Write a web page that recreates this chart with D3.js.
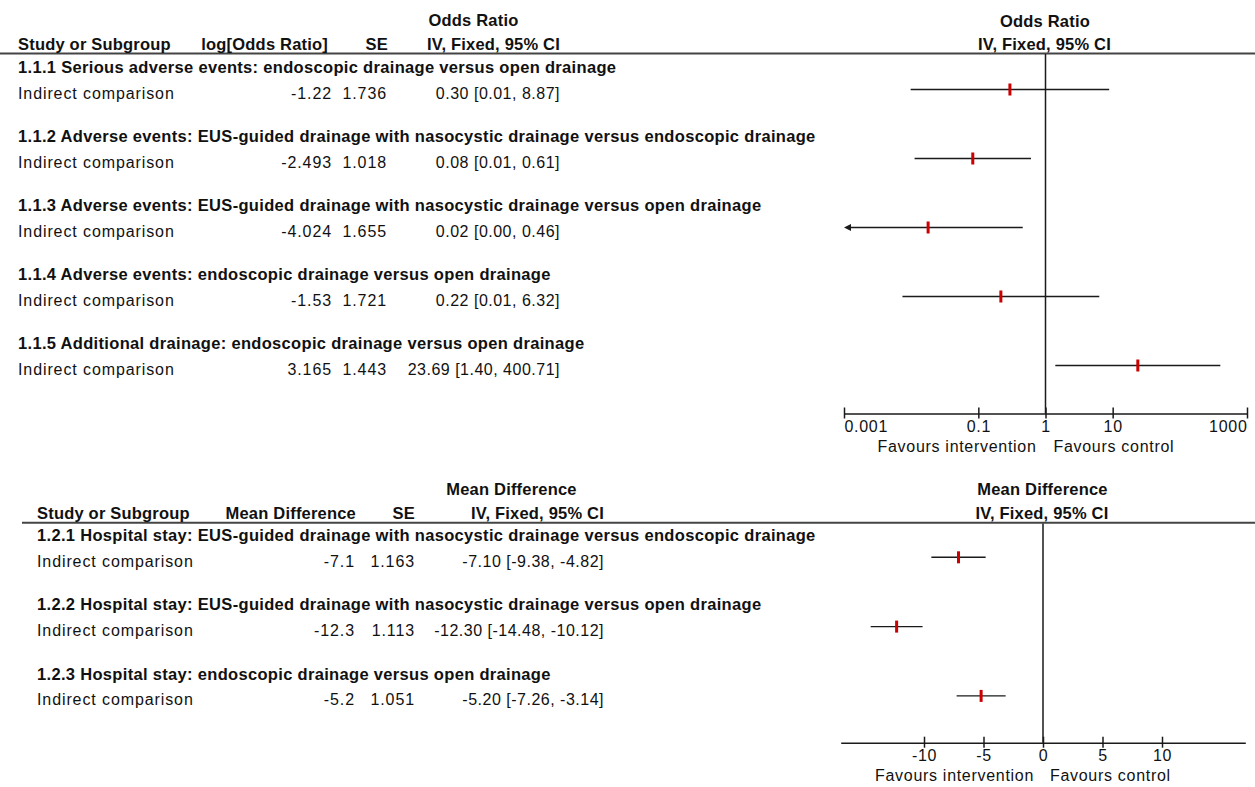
<!DOCTYPE html>
<html><head><meta charset="utf-8">
<script src="https://cdn.jsdelivr.net/npm/d3@7"></script>
<style>
body{margin:0;background:#fff}
text{font-family:"Liberation Sans",Arial,Helvetica,sans-serif;fill:#111}
</style>
</head><body>
<svg id="chart" width="1255" height="787"></svg>
<script>
// ---------- DATA ----------
const orSubgroups = [
  "1.1.1 Serious adverse events: endoscopic drainage versus open drainage",
  "1.1.2 Adverse events: EUS-guided drainage with nasocystic drainage versus endoscopic drainage",
  "1.1.3 Adverse events: EUS-guided drainage with nasocystic drainage versus open drainage",
  "1.1.4 Adverse events: endoscopic drainage versus open drainage",
  "1.1.5 Additional drainage: endoscopic drainage versus open drainage"
];
const orStudies = ["Indirect comparison","Indirect comparison","Indirect comparison","Indirect comparison","Indirect comparison"];
const orLogOR = [-1.22, -2.493, -4.024, -1.53, 3.165];
const orSE = [1.736, 1.018, 1.655, 1.721, 1.443];
const orEst = [0.30, 0.08, 0.02, 0.22, 23.69];
const orLo = [0.01, 0.01, 0.00, 0.01, 1.40];
const orHi = [8.87, 0.61, 0.46, 6.32, 400.71];
const orTicks = [0.001, 0.1, 1, 10, 1000];
const orTickLabels = ["0.001", "0.1", "1", "10", "1000"];

const mdSubgroups = [
  "1.2.1 Hospital stay: EUS-guided drainage with nasocystic drainage versus endoscopic drainage",
  "1.2.2 Hospital stay: EUS-guided drainage with nasocystic drainage versus open drainage",
  "1.2.3 Hospital stay: endoscopic drainage versus open drainage"
];
const mdStudies = ["Indirect comparison","Indirect comparison","Indirect comparison"];
const mdValues = [-7.1, -12.3, -5.2];
const mdSE = [1.163, 1.113, 1.051];
const mdLo = [-9.38, -14.48, -7.26];
const mdHi = [-4.82, -10.12, -3.14];
const mdTicks = [-10, -5, 0, 5, 10];
const mdTickLabels = ["-10", "-5", "0", "5", "10"];

const favourLeft = "Favours intervention";
const favourRight = "Favours control";

// ---------- DRAW ----------
const svg = d3.select("#chart");
const HB = {size: 16.5, ls: 0.2};   // header bold
const TB = {size: 16.5, ls: 0.32};  // subgroup title bold
const RT = {size: 16, ls: 0.9};     // regular row text
const CT = {size: 16, ls: 0.5};     // CI strings
const AX = {size: 16, ls: 0.7};     // axis text

function txt(x, y, s, opt, anchor, bold) {
  return svg.append("text").attr("x", x).attr("y", y).text(s)
    .attr("font-size", opt.size).attr("letter-spacing", opt.ls)
    .attr("font-weight", bold ? "bold" : "normal")
    .attr("text-anchor", anchor || "start");
}
const lineCol = "#1a1a1a";
const markCol = "#cc0000";

function drawAxis(scale, ticks, labels, y, firstLastAnchor) {
  const ax = d3.axisBottom(scale).tickValues(ticks)
    .tickFormat((d, i) => labels[i]).tickSizeOuter(0).tickSizeInner(5);
  const g = svg.append("g").attr("transform", `translate(0,${y})`).style("color", lineCol).call(ax);
  g.select(".domain").attr("stroke-width", 1.5);
  g.selectAll(".tick line").attr("y1", -6).attr("y2", 5).attr("stroke-width", 1.5);
  g.selectAll(".tick text").attr("y", 18.5).attr("dy", 0)
    .attr("font-size", AX.size).attr("letter-spacing", AX.ls)
    .attr("font-family", '"Liberation Sans",Arial,sans-serif')
    .style("fill", "#111")
    .attr("text-anchor", (d, i) => firstLastAnchor ? (i === 0 ? "start" : (i === ticks.length - 1 ? "end" : "middle")) : "middle");
  return g;
}

// ===== Top panel: Odds Ratio =====
const xOR = d3.scaleLog().domain([0.001, 1000]).range([844, 1247]);
svg.append("line").attr("x1", 0).attr("x2", 1255).attr("y1", 53.5).attr("y2", 53.5)
  .attr("stroke", "#444").attr("stroke-width", 2);
txt(473.5, 26, "Odds Ratio", HB, "middle", true);
txt(560, 50, "IV, Fixed, 95% CI", HB, "end", true);
txt(18, 50, "Study or Subgroup", HB, "start", true);
txt(328, 50, "log[Odds Ratio]", HB, "end", true);
txt(388, 50, "SE", HB, "end", true);
txt(1045, 26.5, "Odds Ratio", HB, "middle", true);
txt(1044.5, 50, "IV, Fixed, 95% CI", HB, "middle", true);

const axYTop = 413.5;
svg.append("line").attr("x1", xOR(1)).attr("x2", xOR(1)).attr("y1", 54).attr("y2", axYTop)
  .attr("stroke", lineCol).attr("stroke-width", 1.5);

orSubgroups.forEach((t, i) => {
  const ty = 72.7 + 69 * i, ry = 99 + 69 * i, cy = ry - 9.5;
  txt(18, ty, t, TB, "start", true);
  txt(18, ry, orStudies[i], RT, "start", false);
  txt(332, ry, String(orLogOR[i]), RT, "end", false);
  txt(387, ry, String(orSE[i]), RT, "end", false);
  txt(560, ry, `${orEst[i].toFixed(2)} [${orLo[i].toFixed(2)}, ${orHi[i].toFixed(2)}]`, CT, "end", false);
  const est = Math.exp(orLogOR[i]);
  const lo = Math.exp(orLogOR[i] - 1.96 * orSE[i]);
  const hi = Math.exp(orLogOR[i] + 1.96 * orSE[i]);
  const [dmin, dmax] = xOR.domain();
  const x1 = xOR(Math.max(lo, dmin)), x2 = xOR(Math.min(hi, dmax));
  svg.append("line").attr("x1", lo < dmin ? x1 + 5 : x1).attr("x2", hi > dmax ? x2 - 5 : x2)
    .attr("y1", cy).attr("y2", cy).attr("stroke", lineCol).attr("stroke-width", 1.4);
  if (lo < dmin) {
    svg.append("path").attr("d", `M${x1},${cy}L${x1 + 7},${cy - 3.5}L${x1 + 7},${cy + 3.5}Z`).attr("fill", lineCol);
  }
  if (hi > dmax) {
    svg.append("path").attr("d", `M${x2},${cy}L${x2 - 7},${cy - 3.5}L${x2 - 7},${cy + 3.5}Z`).attr("fill", lineCol);
  }
  svg.append("rect").attr("x", xOR(est) - 1.5).attr("y", cy - 6).attr("width", 3).attr("height", 12).attr("fill", markCol);
});
drawAxis(xOR, orTicks, orTickLabels, axYTop, true);
txt(xOR(1) - 9, 452, favourLeft, AX, "end", false);
txt(xOR(1) + 8, 452, favourRight, AX, "start", false);

// ===== Bottom panel: Mean Difference =====
const xMD = d3.scaleLinear().domain([-17, 17]).range([840.7, 1245.3]);
svg.append("line").attr("x1", 22).attr("x2", 1255).attr("y1", 522.7).attr("y2", 522.7)
  .attr("stroke", "#444").attr("stroke-width", 2);
txt(511.5, 495, "Mean Difference", HB, "middle", true);
txt(604, 518.5, "IV, Fixed, 95% CI", HB, "end", true);
txt(37, 518.5, "Study or Subgroup", HB, "start", true);
txt(356, 518.5, "Mean Difference", HB, "end", true);
txt(415, 518.5, "SE", HB, "end", true);
txt(1042.5, 495, "Mean Difference", HB, "middle", true);
txt(1042, 518.5, "IV, Fixed, 95% CI", HB, "middle", true);

const axYBot = 742.7;
svg.append("line").attr("x1", xMD(0)).attr("x2", xMD(0)).attr("y1", 523.5).attr("y2", axYBot)
  .attr("stroke", lineCol).attr("stroke-width", 1.5);

mdSubgroups.forEach((t, i) => {
  const ty = 541 + 69.3 * i, ry = 566.7 + 69.3 * i, cy = ry - 9.4;
  txt(37, ty, t, TB, "start", true);
  txt(37, ry, mdStudies[i], RT, "start", false);
  txt(355, ry, String(mdValues[i]), RT, "end", false);
  txt(415, ry, String(mdSE[i]), RT, "end", false);
  txt(604, ry, `${mdValues[i].toFixed(2)} [${mdLo[i].toFixed(2)}, ${mdHi[i].toFixed(2)}]`, CT, "end", false);
  svg.append("line").attr("x1", xMD(mdLo[i])).attr("x2", xMD(mdHi[i]))
    .attr("y1", cy).attr("y2", cy).attr("stroke", lineCol).attr("stroke-width", 1.4);
  svg.append("rect").attr("x", xMD(mdValues[i]) - 1.5).attr("y", cy - 6).attr("width", 3).attr("height", 12).attr("fill", markCol);
});
drawAxis(xMD, mdTicks, mdTickLabels, axYBot, false);
txt(xMD(0) - 9, 781, favourLeft, AX, "end", false);
txt(xMD(0) + 7, 781, favourRight, AX, "start", false);
</script>
</body></html>
